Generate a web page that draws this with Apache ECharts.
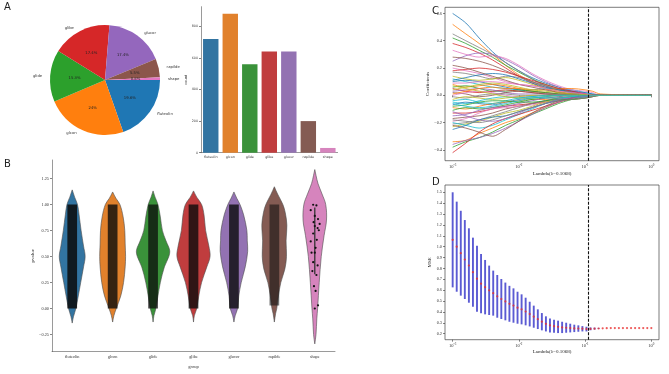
<!DOCTYPE html>
<html>
<head>
<meta charset="utf-8">
<script src="https://cdn.jsdelivr.net/npm/echarts@6/dist/echarts.min.js"></script>
<style>
  html, body { margin: 0; padding: 0; background: #fff; }
  #chart { width: 669px; height: 374px; }
</style>
</head>
<body>
<div id="chart"></div>
<script>
// ---- panel A: group counts ----
var groups = ['fluteolin', 'glcon', 'glide', 'glibe', 'glucor', 'rapilde', 'shape'];
var counts = [720, 880, 560, 640, 640, 200, 30];
var countTicks = [0, 200, 400, 600, 800];

// ---- panel B: violin outline per group, [pvalue, half width (fraction of category)] ----
var violinProfiles = [
  [[-0.14,0],[-0.08,0.03],[0,0.09],[0.12,0.15],[0.25,0.21],[0.4,0.28],[0.5,0.32],[0.6,0.28],[0.75,0.22],[0.9,0.17],[1.0,0.13],[1.07,0.06],[1.14,0]],
  [[-0.13,0],[-0.07,0.03],[0,0.09],[0.12,0.2],[0.25,0.27],[0.4,0.31],[0.5,0.32],[0.62,0.31],[0.75,0.30],[0.88,0.26],[1.0,0.18],[1.06,0.08],[1.12,0]],
  [[-0.13,0],[-0.07,0.02],[0,0.07],[0.12,0.12],[0.25,0.18],[0.4,0.28],[0.5,0.39],[0.56,0.41],[0.65,0.32],[0.75,0.23],[0.88,0.18],[1.0,0.12],[1.07,0.05],[1.13,0]],
  [[-0.13,0],[-0.07,0.02],[0,0.08],[0.12,0.13],[0.25,0.2],[0.4,0.33],[0.5,0.41],[0.6,0.38],[0.75,0.30],[0.9,0.26],[1.0,0.2],[1.07,0.08],[1.13,0]],
  [[-0.13,0],[-0.07,0.03],[0,0.09],[0.12,0.12],[0.25,0.18],[0.4,0.28],[0.55,0.34],[0.65,0.33],[0.75,0.32],[0.9,0.24],[1.0,0.15],[1.06,0.07],[1.12,0]],
  [[-0.13,0],[-0.05,0.03],[0,0.06],[0.12,0.1],[0.25,0.16],[0.38,0.26],[0.5,0.30],[0.65,0.29],[0.8,0.31],[0.92,0.27],[1.0,0.21],[1.1,0.08],[1.17,0]],
  [[-0.34,0],[-0.25,0.03],[-0.1,0.05],[0,0.07],[0.25,0.11],[0.5,0.16],[0.7,0.23],[0.85,0.29],[1.0,0.27],[1.1,0.18],[1.2,0.08],[1.28,0.03],[1.335,0]]
];
// extent of the jittered points (dense strips) and how dark they read
var stripLow = [0.0, 0.0, 0.0, 0.0, 0.0, 0.03, null];
var stripHigh = [1.0, 1.0, 1.0, 1.0, 1.0, 1.0, null];
var stripDensity = [0.85, 0.8, 0.75, 0.8, 0.8, 0.55, 0];
// the sparse "shape" group: [jitter offset, pvalue]
var shapePoints = [[-0.04,0.997],[0.04,0.991],[-0.1,0.945],[0.0,0.89],[0.08,0.859],[0.12,0.813],[0.0,0.792],[0.07,0.773],[0.1,0.752],[-0.04,0.721],
  [-0.1,0.645],[0.02,0.583],[0.0,0.537],[-0.08,0.537],[-0.04,0.445],[0.07,0.414],[0.04,0.322],[-0.02,0.215],[0.02,0.169],[0.08,0.031],[0.0,0.0],[-0.06,0.36],[0.05,0.66],[-0.03,0.83]];
var shapeBox = [0.33, 0.97];
var pTicks = [-0.25, 0, 0.25, 0.5, 0.75, 1.0, 1.25];

// ---- panel C: lasso coefficient paths ----
var lambdaC = [0.001, 0.00158, 0.00251, 0.00398, 0.00631, 0.01, 0.0158, 0.0251, 0.0398, 0.0631, 0.1, 0.129, 0.17, 1];
var coefPaths = [
  [0.60,0.53,0.42,0.32,0.24,0.18,0.13,0.09,0.06,0.03,0.01,0,0,0],
  [0.52,0.45,0.38,0.30,0.22,0.15,0.10,0.06,0.03,0.01,0,0,0,0],
  [0.42,0.38,0.33,0.28,0.22,0.17,0.12,0.08,0.05,0.02,0.005,0,0,0],
  [0.38,0.35,0.31,0.26,0.20,0.14,0.09,0.05,0.02,0.01,0,0,0,0],
  [0.25,0.29,0.31,0.30,0.26,0.21,0.15,0.10,0.06,0.03,0.01,0,0,0],
  [0.28,0.27,0.25,0.22,0.18,0.14,0.10,0.07,0.04,0.02,0.01,0,0,0],
  [0.20,0.18,0.16,0.13,0.10,0.08,0.07,0.06,0.05,0.04,0.03,0.02,0,0],
  [0.17,0.16,0.14,0.12,0.14,0.13,0.10,0.07,0.04,0.02,0,0,0,0],
  [0.14,0.12,0.11,0.12,0.13,0.11,0.08,0.05,0.03,0.01,0,0,0,0],
  [0.12,0.10,0.08,0.06,0.05,0.04,0.04,0.05,0.05,0.04,0.02,0.01,0,0],
  [0.10,0.11,0.10,0.08,0.06,0.04,0.03,0.02,0.01,0,0,0,0,0],
  [0.08,0.06,0.07,0.08,0.07,0.05,0.03,0.02,0.01,0.005,0,0,0,0],
  [0.06,0.07,0.05,0.03,0.03,0.04,0.03,0.02,0.01,0,0,0,0,0],
  [0.05,0.03,0.02,0.03,0.04,0.03,0.02,0.01,0.005,0,0,0,0,0],
  [0.03,0.04,0.05,0.04,0.02,0.01,0.01,0.01,0.005,0,0,0,0,0],
  [0.02,0.01,-0.01,0.00,0.02,0.03,0.02,0.01,0,0,0,0,0,0],
  [0.00,0.02,0.03,0.02,0.00,-0.01,-0.01,0,0,0,0,0,0,0],
  [-0.01,-0.02,0.00,0.01,0.01,0.00,0,0,0,0,0,0,0,0],
  [-0.03,-0.01,-0.02,-0.03,-0.02,-0.01,0,0,0,0,0,0,0,0],
  [-0.05,-0.06,-0.04,-0.02,-0.01,-0.02,-0.01,0,0,0,0,0,0,0],
  [-0.07,-0.05,-0.06,-0.07,-0.05,-0.03,-0.02,-0.01,0,0,0,0,0,0],
  [-0.09,-0.10,-0.08,-0.06,-0.05,-0.04,-0.03,-0.03,-0.02,-0.01,-0.005,0,0,0],
  [-0.11,-0.09,-0.10,-0.09,-0.07,-0.05,-0.03,-0.02,-0.01,0,0,0,0,0],
  [-0.13,-0.13,-0.12,-0.10,-0.08,-0.07,-0.06,-0.05,-0.04,-0.03,-0.02,-0.01,0,0],
  [-0.15,-0.14,-0.11,-0.09,-0.08,-0.06,-0.04,-0.02,-0.01,0,0,0,0,0],
  [-0.17,-0.16,-0.15,-0.13,-0.10,-0.08,-0.06,-0.04,-0.02,-0.01,0,0,0,0],
  [-0.19,-0.17,-0.13,-0.10,-0.09,-0.08,-0.07,-0.05,-0.03,-0.015,-0.01,-0.005,0,0],
  [-0.21,-0.20,-0.18,-0.15,-0.12,-0.09,-0.06,-0.04,-0.02,-0.01,0,0,0,0],
  [-0.23,-0.21,-0.19,-0.16,-0.13,-0.11,-0.08,-0.05,-0.03,-0.01,0,0,0,0],
  [-0.20,-0.22,-0.24,-0.22,-0.18,-0.14,-0.10,-0.06,-0.03,-0.01,0,0,0,0],
  [-0.25,-0.22,-0.18,-0.16,-0.15,-0.12,-0.09,-0.06,-0.04,-0.02,-0.01,0,0,0],
  [-0.34,-0.33,-0.28,-0.24,-0.20,-0.17,-0.13,-0.09,-0.05,-0.02,0,0,0,0],
  [-0.38,-0.34,-0.31,-0.27,-0.22,-0.18,-0.14,-0.10,-0.06,-0.03,-0.01,0,0,0],
  [-0.42,-0.35,-0.27,-0.21,-0.17,-0.14,-0.11,-0.08,-0.05,-0.02,0,0,0,0],
  [-0.36,-0.33,-0.31,-0.28,-0.24,-0.19,-0.14,-0.09,-0.05,-0.02,0,0,0,0],
  [-0.22,-0.24,-0.27,-0.30,-0.25,-0.19,-0.13,-0.08,-0.04,-0.02,0,0,0,0],
  [0.33,0.30,0.28,0.29,0.27,0.22,0.16,0.11,0.07,0.04,0.015,0,0,0],
  [0.45,0.40,0.35,0.30,0.24,0.18,0.12,0.07,0.04,0.02,0.005,0,0,0],
  [0.07,0.05,0.03,0.01,-0.01,-0.02,-0.02,-0.01,0,0,0,0,0,0],
  [-0.04,-0.03,-0.05,-0.06,-0.04,-0.02,-0.01,-0.02,-0.02,-0.01,-0.01,0,0,0],
  [0.11,0.13,0.15,0.16,0.15,0.12,0.09,0.06,0.04,0.03,0.02,0.01,0,0],
  [0.01,0.03,0.05,0.06,0.05,0.05,0.04,0.04,0.05,0.05,0.04,0.03,0.01,0],
  [-0.08,-0.07,-0.05,-0.04,-0.04,-0.05,-0.05,-0.04,-0.03,-0.03,-0.02,-0.01,0,0],
  [0.18,0.19,0.20,0.19,0.17,0.14,0.11,0.08,0.05,0.03,0.01,0,0,0],
  [-0.12,-0.15,-0.18,-0.19,-0.17,-0.13,-0.09,-0.06,-0.03,-0.02,-0.01,0,0,0],
  [0.22,0.20,0.17,0.14,0.11,0.08,0.06,0.04,0.02,0.01,0,0,0,0],
  [0.09,0.09,0.10,0.10,0.09,0.08,0.07,0.05,0.03,0.02,0.01,0,0,0],
  [-0.18,-0.19,-0.20,-0.18,-0.15,-0.12,-0.09,-0.06,-0.04,-0.03,-0.02,-0.01,0,0],
  [0.04,0.06,0.08,0.09,0.08,0.06,0.04,0.03,0.02,0.01,0.005,0,0,0],
  [-0.06,-0.08,-0.09,-0.08,-0.06,-0.04,-0.02,-0.01,0,0,0,0,0,0]
];
var coefTicks = [-0.4, -0.2, 0, 0.2, 0.4, 0.6];

// ---- panel D: cross-validated MSE ----
var lambdaD = [0.001, 0.001151, 0.001326, 0.001526, 0.001758, 0.002024, 0.00233, 0.002683, 0.003089, 0.003556,
  0.004095, 0.004715, 0.005429, 0.006251, 0.007197, 0.008286, 0.009541, 0.010985, 0.012649, 0.014563,
  0.016768, 0.019307, 0.02223, 0.025595, 0.029471, 0.033932, 0.039069, 0.044984, 0.051795, 0.059636,
  0.068665, 0.07906, 0.09103, 0.104811, 0.120679, 0.13895, 0.159986, 0.184207, 0.212095, 0.244205,
  0.281177, 0.323746, 0.372759, 0.429193, 0.494171, 0.568987, 0.655129, 0.754312, 0.868511, 1.0];
var mseMean = [1.063, 1.0, 0.94, 0.882, 0.827, 0.766, 0.706, 0.66, 0.628, 0.599,
  0.573, 0.544, 0.519, 0.497, 0.475, 0.459, 0.439, 0.424, 0.404, 0.381,
  0.357, 0.334, 0.311, 0.291, 0.277, 0.269, 0.263, 0.258, 0.255, 0.252,
  0.249, 0.248, 0.246, 0.243, 0.244, 0.246, 0.248, 0.25, 0.251, 0.252,
  0.252, 0.252, 0.252, 0.252, 0.252, 0.252, 0.252, 0.252, 0.252, 0.252];
var mseLow = [0.626, 0.586, 0.55, 0.519, 0.485, 0.448, 0.402, 0.387, 0.378, 0.372,
  0.366, 0.347, 0.335, 0.323, 0.31, 0.301, 0.292, 0.286, 0.277, 0.267,
  0.255, 0.243, 0.231, 0.221, 0.212, 0.209, 0.206, 0.206, 0.209, 0.212,
  0.215, 0.218, 0.221, 0.221, 0.232, 0.238, 0.245, 0.25, 0.251, 0.252,
  0.252, 0.252, 0.252, 0.252, 0.252, 0.252, 0.252, 0.252, 0.252, 0.252];
var mseHigh = [1.5, 1.414, 1.33, 1.245, 1.169, 1.083, 1.009, 0.933, 0.878, 0.826,
  0.78, 0.74, 0.703, 0.67, 0.64, 0.617, 0.586, 0.562, 0.531, 0.494,
  0.458, 0.424, 0.39, 0.36, 0.341, 0.329, 0.32, 0.31, 0.301, 0.292,
  0.283, 0.277, 0.27, 0.264, 0.258, 0.256, 0.254, 0.25, 0.251, 0.252,
  0.252, 0.252, 0.252, 0.252, 0.252, 0.252, 0.252, 0.252, 0.252, 0.252];
var mseTicks = [0.2, 0.3, 0.4, 0.5, 0.6, 0.7, 0.8, 0.9, 1.0, 1.1, 1.2, 1.3, 1.4, 1.5];
var bestLambda = 0.1068;

// colours
var tab10 = ['#1f77b4', '#ff7f0e', '#2ca02c', '#d62728', '#9467bd', '#8c564b', '#e377c2', '#7f7f7f', '#bcbd22', '#17becf'];
var muted = ['#3274a1', '#e1812c', '#3a923a', '#c03d3e', '#9372b2', '#845b53', '#d684bd'];

var serif = 'Liberation Serif';
var sans = 'DejaVu Sans';

var chart = echarts.init(document.getElementById('chart'));

function logLabel(v) {
  var e = Math.log10(v);
  if (Math.abs(e - Math.round(e)) > 0.01) return '';
  return '10{s|' + Math.round(e) + '}';
}
var logRich = { s: { fontSize: 3.2, verticalAlign: 'top', padding: [0, 0, 3, 0], fontFamily: serif, color: '#333' } };

function logAxis(gridIndex, name, gap) {
  return {
    type: 'log', gridIndex: gridIndex, logBase: 10,
    min: 0.000766, max: 1.306,
    name: name, nameLocation: 'middle', nameGap: gap,
    nameTextStyle: { fontFamily: serif, fontSize: 5, color: '#222' },
    axisLine: { show: false },
    axisTick: { show: true, length: 2, lineStyle: { color: '#333', width: 0.6 } },
    axisLabel: { formatter: logLabel, rich: logRich, fontFamily: serif, fontSize: 4.5, color: '#333', margin: 3, showMinLabel: false, showMaxLabel: false },
    splitLine: { show: false }
  };
}

function valueAxis(gridIndex, min, max, ticks, digits, name, gap, spine) {
  return {
    type: 'value', gridIndex: gridIndex, min: min, max: max,
    name: name, nameLocation: 'middle', nameGap: gap, nameRotate: 90,
    nameTextStyle: { fontFamily: serif, fontSize: 5, color: '#222' },
    axisLine: { show: spine, onZero: false, lineStyle: { color: '#555', width: 0.6 } },
    axisTick: { show: true, length: 2, customValues: ticks, lineStyle: { color: '#333', width: 0.6 } },
    axisLabel: {
      customValues: ticks, fontFamily: serif, fontSize: 4.3, color: '#333', margin: 3,
      formatter: function (v) { return v.toFixed(digits).replace('-', '\u2212'); }
    },
    splitLine: { show: false }
  };
}

// violin bodies
function violinItem(params, api) {
  var g = api.value(0);
  var band = api.size([1, 0])[0];
  var right = [], left = [];
  violinProfiles[g].forEach(function (p) {
    var c = api.coord([g, p[0]]);
    right.push([c[0] + p[1] * band, c[1]]);
    left.unshift([c[0] - p[1] * band, c[1]]);
  });
  return {
    type: 'polygon',
    shape: { points: right.concat(left), smooth: 0.35 },
    style: { fill: muted[g], stroke: '#4d4d4d', lineWidth: 0.6 }
  };
}

// dense jittered points drawn as a strip
function stripItem(params, api) {
  var g = api.value(0);
  if (stripLow[g] === null) return null;
  var band = api.size([1, 0])[0];
  var top = api.coord([g, stripHigh[g]]);
  var bot = api.coord([g, stripLow[g]]);
  var hw = 0.12 * band;
  return {
    type: 'rect',
    shape: { x: top[0] - hw, y: top[1], width: 2 * hw, height: bot[1] - top[1] },
    style: { fill: '#0b0b0b', opacity: stripDensity[g] }
  };
}

function shapeItem(params, api) {
  var band = api.size([1, 0])[0];
  var c = api.coord([6, api.value(1)]);
  return {
    type: 'circle',
    shape: { cx: c[0] + api.value(0) * band, cy: c[1], r: 1.1 },
    style: { fill: '#111' }
  };
}

function shapeBoxItem(params, api) {
  var a = api.coord([6, shapeBox[0]]);
  var b = api.coord([6, shapeBox[1]]);
  return { type: 'line', shape: { x1: a[0], y1: a[1], x2: b[0], y2: b[1] }, style: { stroke: '#333', lineWidth: 1.3 } };
}

function errItem(params, api) {
  var lo = api.coord([api.value(0), api.value(1)]);
  var hi = api.coord([api.value(0), api.value(2)]);
  return { type: 'line', shape: { x1: lo[0], y1: lo[1], x2: hi[0], y2: hi[1] }, style: { stroke: '#5b5bd3', lineWidth: 1.9 } };
}

var bestLine = {
  silent: true, symbol: 'none', label: { show: false },
  lineStyle: { type: [3, 1.5], color: '#111', width: 1.1 },
  data: [{ xAxis: bestLambda }]
};

var series = [];

// A: pie with percentages inside and names outside
var pieData = groups.map(function (g, i) { return { name: g, value: counts[i], itemStyle: { color: tab10[i] } }; });
series.push({
  type: 'pie', center: [105, 80], radius: 55, startAngle: 0, clockwise: true,
  percentPrecision: 1, silent: true,
  label: { position: 'inside', formatter: '{d}%', fontFamily: sans, fontSize: 3.8, color: '#222' },
  labelLine: { show: false },
  data: pieData
});
series.push({
  type: 'pie', center: [105, 80], radius: 55, startAngle: 0, clockwise: true, silent: true,
  itemStyle: { color: 'rgba(0,0,0,0)' },
  label: { position: 'outside', formatter: '{b}', fontFamily: sans, fontSize: 3.8, color: '#333' },
  labelLine: { show: false, length: 3, length2: 0 },
  data: groups.map(function (g, i) { return { name: g, value: counts[i] }; })
});

// A: counts bar chart
series.push({
  type: 'bar', xAxisIndex: 0, yAxisIndex: 0, barCategoryGap: '21%', silent: true,
  data: counts.map(function (v, i) { return { value: v, itemStyle: { color: muted[i] } }; })
});

// B: violins, strips, sparse points
var groupIdx = groups.map(function (g, i) { return [i, 0.5]; });
series.push({ type: 'custom', xAxisIndex: 1, yAxisIndex: 1, renderItem: violinItem, data: groupIdx, encode: { x: 0, y: 1 }, silent: true, z: 2 });
series.push({ type: 'custom', xAxisIndex: 1, yAxisIndex: 1, renderItem: stripItem, data: groupIdx, encode: { x: 0, y: 1 }, silent: true, z: 3 });
series.push({ type: 'custom', xAxisIndex: 1, yAxisIndex: 1, renderItem: shapeBoxItem, data: [[6, 0.5]], encode: { x: 0, y: 1 }, silent: true, z: 3 });
series.push({ type: 'custom', xAxisIndex: 1, yAxisIndex: 1, renderItem: shapeItem, data: shapePoints, encode: { y: 1 }, silent: true, z: 4 });

// C: coefficient paths
coefPaths.forEach(function (path, i) {
  var s = {
    type: 'line', xAxisIndex: 2, yAxisIndex: 2, showSymbol: false, smooth: 0.3, silent: true,
    lineStyle: { width: 0.8, color: tab10[i % 10] },
    data: path.map(function (v, j) { return [lambdaC[j], v]; })
  };
  if (i === 0) s.markLine = bestLine;
  series.push(s);
});

// D: MSE error bars + means
series.push({
  type: 'custom', xAxisIndex: 3, yAxisIndex: 3, renderItem: errItem, silent: true,
  encode: { x: 0, y: [1, 2] },
  data: lambdaD.map(function (l, i) { return [l, mseLow[i], mseHigh[i]]; }),
  markLine: bestLine
});
series.push({
  type: 'scatter', xAxisIndex: 3, yAxisIndex: 3, symbolSize: 2.2, silent: true,
  itemStyle: { color: '#e8302f' },
  data: lambdaD.map(function (l, i) { return [l, mseMean[i]]; }), z: 5
});

var catAxisBase = {
  type: 'category', data: groups,
  axisLine: { onZero: false, lineStyle: { color: '#555', width: 0.6 } },
  axisTick: { length: 2, alignWithLabel: true, lineStyle: { color: '#333', width: 0.6 } },
  splitLine: { show: false }
};

chart.setOption({
  animation: false,
  backgroundColor: '#fff',
  grid: [
    { left: 201, top: 6.7, width: 136.6, height: 146 },
    { left: 52, top: 160, width: 283, height: 200 },
    { left: 445, top: 7.3, width: 214, height: 153.4, show: true, borderColor: '#444', borderWidth: 0.7 },
    { left: 445, top: 185, width: 214, height: 154.7, show: true, borderColor: '#444', borderWidth: 0.7 }
  ],
  xAxis: [
    Object.assign({}, catAxisBase, { gridIndex: 0,
      axisLabel: { interval: 0, fontFamily: sans, fontSize: 3.3, color: '#333', margin: 3 } }),
    Object.assign({}, catAxisBase, { gridIndex: 1, name: 'group', nameLocation: 'middle', nameGap: 11.5,
      nameTextStyle: { fontFamily: serif, fontSize: 4.5, color: '#333' },
      axisLabel: { interval: 0, fontFamily: serif, fontSize: 4.3, color: '#333', margin: 3.5 } }),
    logAxis(2, 'Lambda(\u03bb=0.1068)', 10),
    logAxis(3, 'Lambda(\u03bb=0.1068)', 9)
  ],
  yAxis: [
    {
      type: 'value', gridIndex: 0, min: 0, max: 924,
      name: 'count', nameLocation: 'middle', nameGap: 9, nameRotate: 90,
      nameTextStyle: { fontFamily: sans, fontSize: 3.5, color: '#333' },
      axisLine: { show: true, lineStyle: { color: '#555', width: 0.6 } },
      axisTick: { show: true, length: 2, customValues: countTicks, lineStyle: { color: '#333', width: 0.6 } },
      axisLabel: { customValues: countTicks, fontFamily: sans, fontSize: 3.3, color: '#333', margin: 3 },
      splitLine: { show: false }
    },
    valueAxis(1, -0.414, 1.427, pTicks, 2, 'pvalue', 13, true),
    valueAxis(2, -0.479, 0.645, coefTicks, 1, 'Coefficients', 14, false),
    valueAxis(3, 0.145, 1.567, mseTicks, 1, 'MSE', 12.5, false)
  ],
  graphic: [
    { type: 'text', left: 4, top: 2, style: { text: 'A', fontFamily: sans, fontSize: 10, fill: '#222' } },
    { type: 'text', left: 4, top: 159, style: { text: 'B', fontFamily: sans, fontSize: 10, fill: '#222' } },
    { type: 'text', left: 432, top: 6, style: { text: 'C', fontFamily: sans, fontSize: 10, fill: '#222' } },
    { type: 'text', left: 432, top: 177, style: { text: 'D', fontFamily: sans, fontSize: 10, fill: '#222' } }
  ],
  series: series
});
</script>
</body>
</html>
